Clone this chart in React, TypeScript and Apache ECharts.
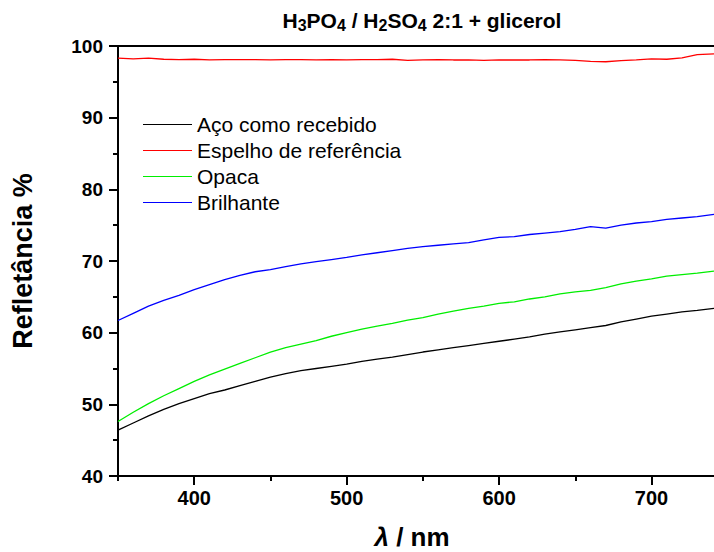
import React, { useEffect, useRef } from "react";
import * as echarts from "echarts";

const wavelengths = [350, 360, 370, 380, 390, 400, 410, 420, 430, 440, 450, 460, 470, 480, 490, 500, 510, 520, 530, 540, 550, 560, 570, 580, 590, 600, 610, 620, 630, 640, 650, 660, 670, 680, 690, 700, 710, 720, 730, 741];

const aco = [46.4, 47.4, 48.4, 49.3, 50.1, 50.8, 51.5, 52.0, 52.6, 53.2, 53.8, 54.3, 54.7, 55.0, 55.3, 55.6, 56.0, 56.3, 56.6, 56.95, 57.3, 57.6, 57.9, 58.2, 58.5, 58.8, 59.1, 59.4, 59.8, 60.1, 60.4, 60.7, 61.0, 61.5, 61.9, 62.3, 62.6, 62.9, 63.1, 63.4];

const espelho = [98.3, 98.2, 98.3, 98.15, 98.1, 98.15, 98.05, 98.1, 98.1, 98.1, 98.05, 98.1, 98.1, 98.05, 98.1, 98.05, 98.1, 98.1, 98.15, 98.0, 98.05, 98.1, 98.05, 98.05, 98.0, 98.05, 98.05, 98.05, 98.1, 98.05, 98.0, 97.85, 97.8, 97.95, 98.05, 98.2, 98.15, 98.35, 98.8, 98.9];

const opaca = [47.6, 48.9, 50.1, 51.2, 52.2, 53.2, 54.1, 54.9, 55.7, 56.5, 57.3, 57.9, 58.4, 58.9, 59.5, 60.0, 60.5, 60.9, 61.3, 61.75, 62.1, 62.6, 63.0, 63.4, 63.7, 64.1, 64.3, 64.7, 65.0, 65.4, 65.7, 65.9, 66.3, 66.8, 67.2, 67.5, 67.9, 68.1, 68.3, 68.6];

const brilhante = [61.7, 62.7, 63.7, 64.5, 65.2, 66.0, 66.7, 67.4, 68.0, 68.5, 68.8, 69.2, 69.6, 69.9, 70.2, 70.5, 70.85, 71.15, 71.45, 71.75, 72.0, 72.2, 72.4, 72.55, 72.95, 73.3, 73.4, 73.7, 73.9, 74.1, 74.4, 74.8, 74.6, 75.0, 75.3, 75.5, 75.8, 76.0, 76.2, 76.5];

const seriesNames = ["Aço como recebido", "Espelho de referência", "Opaca", "Brilhante"];
const seriesColors = ["#000000", "#ff0000", "#00ee00", "#0000ff"];
const xMajorTicks = [400, 500, 600, 700];
const xMinorTicks = [350, 450, 550, 650];

const FONT = '"Liberation Sans", Arial, sans-serif';

export default function App() {
  const ref = useRef<HTMLDivElement>(null);

  useEffect(() => {
    if (!ref.current) return;
    const chart = echarts.init(ref.current, undefined, { renderer: "svg" });
    const allValues = [aco, espelho, opaca, brilhante];
    const axisLineStyle = { color: "#000", width: 2 };
    const X_MIN = 350;
    const X_MAX = 741;

    chart.setOption({
      animation: false,
      backgroundColor: "#fff",
      textStyle: { fontFamily: FONT },
      grid: {
        left: 118,
        top: 46,
        bottom: 76,
        right: 0,
        show: false,
      },
      legend: {
        orient: "vertical",
        left: 143,
        top: 114,
        padding: 0,
        itemWidth: 49,
        itemHeight: 1,
        itemGap: 5,
        icon: "rect",
        textStyle: { fontSize: 21, lineHeight: 21, color: "#000", fontFamily: FONT },
        data: seriesNames.map((name, i) => ({
          name,
          itemStyle: { color: seriesColors[i], borderColor: seriesColors[i], borderWidth: 0 },
        })),
      },
      xAxis: [
        {
          type: "value",
          min: X_MIN,
          max: X_MAX,
          interval: 50,
          axisLine: { show: true, lineStyle: axisLineStyle },
          axisTick: { show: true, customValues: xMajorTicks, length: 9, lineStyle: axisLineStyle },
          axisLabel: {
            customValues: xMajorTicks,
            fontSize: 20,
            fontWeight: "bold",
            color: "#000",
            margin: 12,
            fontFamily: FONT,
          },
          splitLine: { show: false },
        },
        {
          type: "value",
          min: X_MIN,
          max: X_MAX,
          interval: 50,
          position: "bottom",
          axisLine: { show: false },
          axisTick: { show: true, customValues: xMinorTicks, length: 5, lineStyle: axisLineStyle },
          axisLabel: { show: false },
          splitLine: { show: false },
        },
        {
          type: "value",
          min: X_MIN,
          max: X_MAX,
          interval: 50,
          position: "top",
          axisLine: { show: true, onZero: false, lineStyle: axisLineStyle },
          axisTick: { show: false },
          axisLabel: { show: false },
          splitLine: { show: false },
        },
      ],
      yAxis: {
        type: "value",
        min: 40,
        max: 100,
        interval: 10,
        axisLine: { show: true, lineStyle: axisLineStyle },
        axisTick: { show: true, length: 9, lineStyle: axisLineStyle },
        minorTick: { show: true, splitNumber: 2, length: 5, lineStyle: axisLineStyle },
        axisLabel: {
          fontSize: 19,
          fontWeight: "bold",
          color: "#000",
          margin: 15,
          fontFamily: FONT,
        },
        splitLine: { show: false },
      },
      series: seriesNames.map((name, i) => ({
        name,
        type: "line",
        xAxisIndex: 0,
        showSymbol: false,
        symbol: "none",
        smooth: false,
        color: seriesColors[i],
        itemStyle: { color: seriesColors[i] },
        lineStyle: { width: 1.3, color: seriesColors[i] },
        data: wavelengths.map((w, j) => [w, allValues[i][j]]),
      })),
      graphic: [
        {
          type: "text",
          x: 422,
          y: 20,
          style: {
            text: "{b|H}{s|3}{b|PO}{s|4}{b| / H}{s|2}{b|SO}{s|4}{b| 2:1 + glicerol}",
            align: "center",
            verticalAlign: "middle",
            rich: {
              b: { fontSize: 21, fontWeight: "bold", fontFamily: FONT, fill: "#000", lineHeight: 26, verticalAlign: "middle" },
              s: { fontSize: 16, fontWeight: "bold", fontFamily: FONT, fill: "#000", lineHeight: 13, verticalAlign: "bottom" },
            },
          },
        },
        {
          type: "text",
          x: 23,
          y: 261,
          rotation: Math.PI / 2,
          style: {
            text: "Refletância %",
            font: `bold 27px ${FONT}`,
            fill: "#000",
            align: "center",
            verticalAlign: "middle",
          },
        },
        {
          type: "text",
          x: 412,
          y: 537,
          style: {
            text: "{l|λ}{b| / nm}",
            align: "center",
            verticalAlign: "middle",
            rich: {
              l: { fontSize: 26, fontWeight: "bold", fontStyle: "italic", fontFamily: FONT, fill: "#000" },
              b: { fontSize: 26, fontWeight: "bold", fontFamily: FONT, fill: "#000" },
            },
          },
        },
      ],
    });

    return () => {
      chart.dispose();
    };
  }, []);

  return (
    <div
      ref={ref}
      style={{ position: "fixed", left: 0, top: 0, width: 714, height: 552, background: "#fff" }}
    />
  );
}
